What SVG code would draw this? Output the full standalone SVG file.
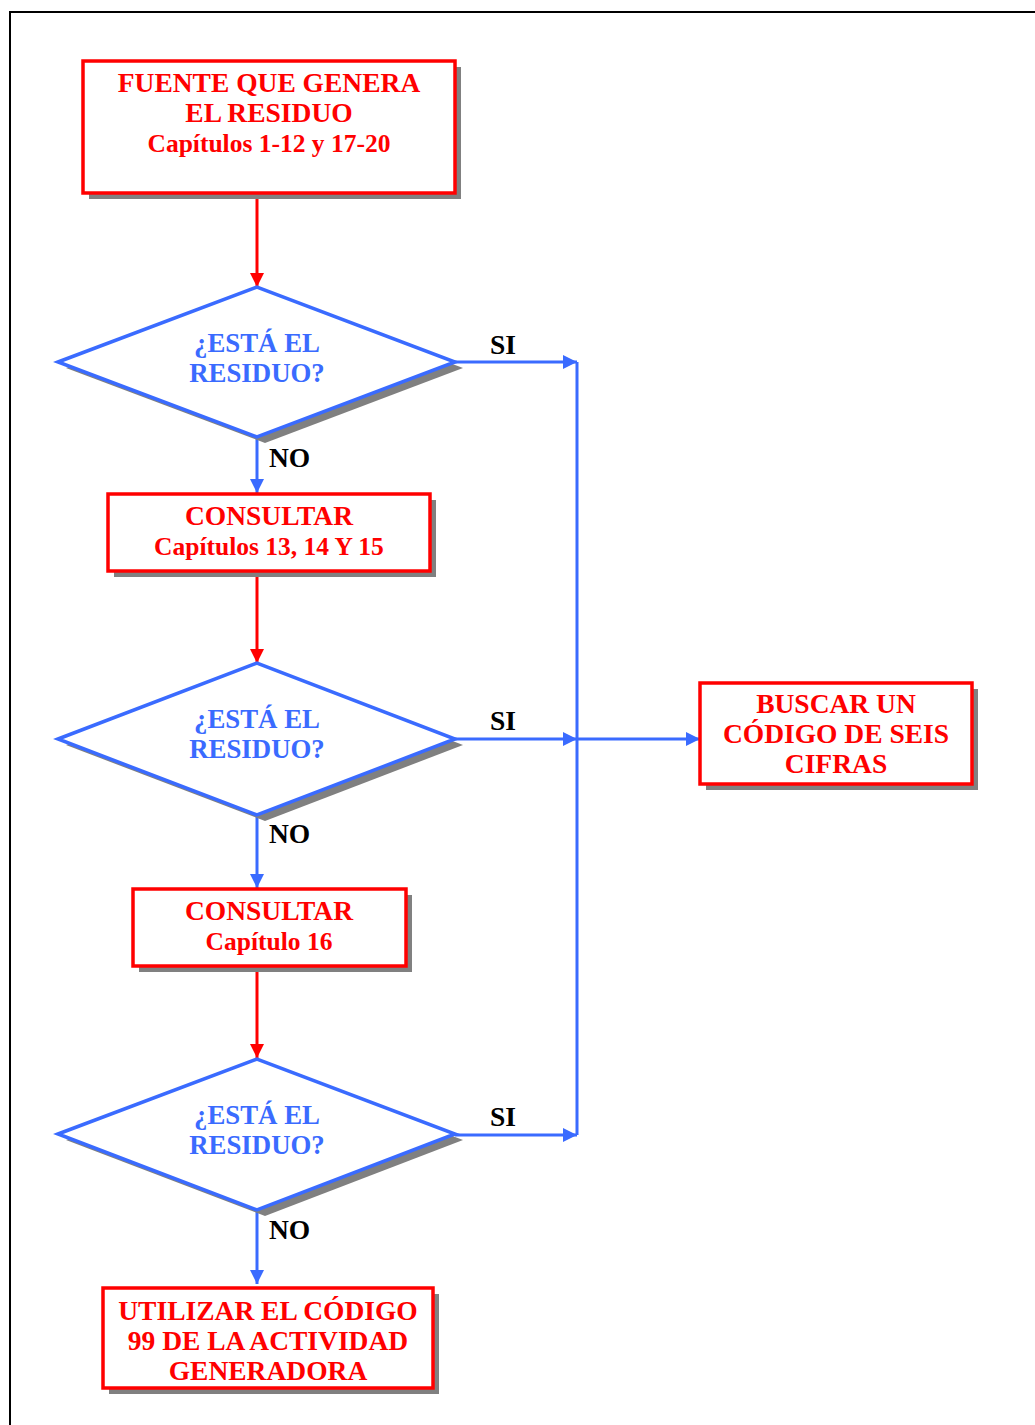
<svg xmlns="http://www.w3.org/2000/svg" width="1035" height="1425" viewBox="0 0 1035 1425">
  <style>
    .lbl { font-family: "Liberation Serif", "Times New Roman", serif; font-weight: bold; font-size: 27.5px; text-anchor: middle; }
    .sm { font-size: 25.5px; }
    .red { fill: #FF0000; }
    .blue { fill: #3A6BFF; font-size: 26.8px; }
    .dark { fill: #000000; text-anchor: start; }
    .box { fill: #FFFFFF; stroke: #FF0000; stroke-width: 3.5; }
    .dia { fill: #FFFFFF; stroke: #3A6BFF; stroke-width: 3.5; stroke-linejoin: miter; }
    .shadow { fill: #808080; }
    .cr { stroke: #FF0000; stroke-width: 3; fill: none; }
    .cb { stroke: #3A6BFF; stroke-width: 3; fill: none; }
  </style>
  <defs>
    <marker id="arR" markerUnits="userSpaceOnUse" markerWidth="15" markerHeight="14" refX="14" refY="7" orient="auto">
      <path d="M0,0 L14,7 L0,14 Z" fill="#FF0000"/>
    </marker>
    <marker id="arB" markerUnits="userSpaceOnUse" markerWidth="15" markerHeight="14" refX="14" refY="7" orient="auto">
      <path d="M0,0 L14,7 L0,14 Z" fill="#3A6BFF"/>
    </marker>
  </defs>

  <rect width="1035" height="1425" fill="#FFFFFF"/>
  <!-- page frame -->
  <rect x="10" y="12" width="1040" height="1430" fill="none" stroke="#000000" stroke-width="2"/>

  <!-- connectors -->
  <g id="connectors">
    <line class="cr" x1="257" y1="194" x2="257" y2="287" marker-end="url(#arR)"/>
    <line class="cb" x1="257" y1="438" x2="257" y2="493" marker-end="url(#arB)"/>
    <line class="cr" x1="257" y1="572" x2="257" y2="663" marker-end="url(#arR)"/>
    <line class="cb" x1="257" y1="815" x2="257" y2="888" marker-end="url(#arB)"/>
    <line class="cr" x1="257" y1="967" x2="257" y2="1058" marker-end="url(#arR)"/>
    <line class="cb" x1="257" y1="1211" x2="257" y2="1284" marker-end="url(#arB)"/>

    <line class="cb" x1="455" y1="362" x2="577" y2="362" marker-end="url(#arB)"/>
    <line class="cb" x1="455" y1="739" x2="577" y2="739" marker-end="url(#arB)"/>
    <line class="cb" x1="455" y1="1135" x2="577" y2="1135" marker-end="url(#arB)"/>
    <line class="cb" x1="577" y1="362" x2="577" y2="1135"/>
    <line class="cb" x1="577" y1="739" x2="700" y2="739" marker-end="url(#arB)"/>

    <text class="lbl dark" x="490" y="354">SI</text>
    <text class="lbl dark" x="490" y="730">SI</text>
    <text class="lbl dark" x="490" y="1126">SI</text>
    <text class="lbl dark" x="269" y="467">NO</text>
    <text class="lbl dark" x="269" y="843">NO</text>
    <text class="lbl dark" x="269" y="1239">NO</text>
  </g>

  <g id="fuente">
    <rect class="shadow" x="89" y="67" width="372" height="132"/>
    <rect class="box" x="83" y="61" width="372" height="132"/>
    <text class="lbl red" x="269" y="92">FUENTE QUE GENERA</text>
    <text class="lbl red" x="269" y="122">EL RESIDUO</text>
    <text class="lbl red sm" x="269" y="152">Capítulos 1-12 y 17-20</text>
  </g>

  <g id="pregunta1">
    <polygon class="shadow" points="66,368 265,293 463,368 265,443"/>
    <polygon class="dia" points="58,362 257,287 455,362 257,437"/>
    <text class="lbl blue" x="257" y="352">¿ESTÁ EL</text>
    <text class="lbl blue" x="257" y="382">RESIDUO?</text>
  </g>

  <g id="consultar1">
    <rect class="shadow" x="114" y="500" width="322" height="77"/>
    <rect class="box" x="108" y="494" width="322" height="77"/>
    <text class="lbl red" x="269" y="525">CONSULTAR</text>
    <text class="lbl red sm" x="269" y="555">Capítulos 13, 14 Y 15</text>
  </g>

  <g id="pregunta2">
    <polygon class="shadow" points="66,745 265,669 463,745 265,821"/>
    <polygon class="dia" points="58,739 257,663 455,739 257,815"/>
    <text class="lbl blue" x="257" y="728">¿ESTÁ EL</text>
    <text class="lbl blue" x="257" y="758">RESIDUO?</text>
  </g>

  <g id="buscar">
    <rect class="shadow" x="706" y="689" width="272" height="101"/>
    <rect class="box" x="700" y="683" width="272" height="101"/>
    <text class="lbl red" x="836" y="713">BUSCAR UN</text>
    <text class="lbl red" x="836" y="743">CÓDIGO DE SEIS</text>
    <text class="lbl red" x="836" y="773">CIFRAS</text>
  </g>

  <g id="consultar2">
    <rect class="shadow" x="139" y="895" width="273" height="77"/>
    <rect class="box" x="133" y="889" width="273" height="77"/>
    <text class="lbl red" x="269" y="920">CONSULTAR</text>
    <text class="lbl red sm" x="269" y="950">Capítulo 16</text>
  </g>

  <g id="pregunta3">
    <polygon class="shadow" points="66,1140 265,1065 463,1140 265,1216"/>
    <polygon class="dia" points="58,1134 257,1059 455,1134 257,1210"/>
    <text class="lbl blue" x="257" y="1124">¿ESTÁ EL</text>
    <text class="lbl blue" x="257" y="1154">RESIDUO?</text>
  </g>

  <g id="utilizar">
    <rect class="shadow" x="109" y="1294" width="330" height="100"/>
    <rect class="box" x="103" y="1288" width="330" height="100"/>
    <text class="lbl red" x="268" y="1320">UTILIZAR EL CÓDIGO</text>
    <text class="lbl red" x="268" y="1350">99 DE LA ACTIVIDAD</text>
    <text class="lbl red" x="268" y="1380">GENERADORA</text>
  </g>
</svg>
